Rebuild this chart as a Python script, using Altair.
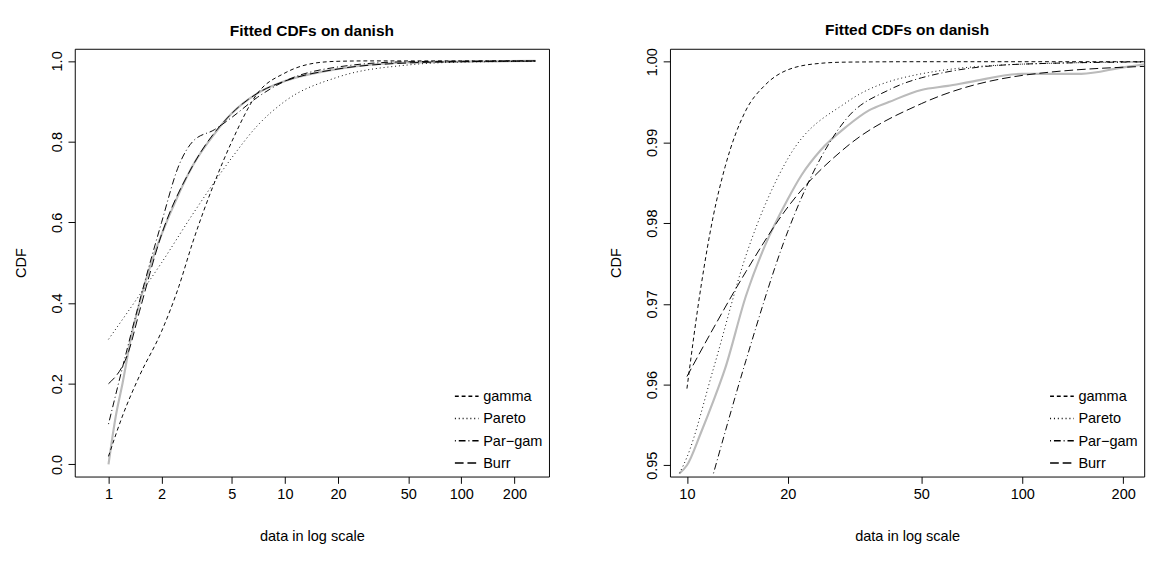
import altair as alt
import pandas as pd

# Left panel: full range
L_gamma_x = [1, 1.2, 1.5, 2, 2.5, 3, 4, 5, 7, 10, 15, 20, 30, 263]
L_gamma_y = [0.02, 0.12, 0.22, 0.33, 0.44, 0.55, 0.70, 0.80, 0.92, 0.97, 0.995, 0.999, 1.0, 1.0]
L_pareto_x = [1, 1.5, 2, 3, 5, 7, 10, 20, 50, 100, 263]
L_pareto_y = [0.31, 0.42, 0.50, 0.62, 0.76, 0.84, 0.90, 0.96, 0.99, 0.997, 0.999]
L_pargam_x = [1, 1.3, 1.6, 2, 2.5, 3, 4, 5, 7, 10, 20, 50, 263]
L_pargam_y = [0.10, 0.30, 0.45, 0.60, 0.74, 0.80, 0.83, 0.86, 0.91, 0.95, 0.985, 0.998, 1.0]
L_burr_x = [1, 1.3, 1.5, 2, 3, 5, 7, 10, 20, 50, 100, 263]
L_burr_y = [0.20, 0.28, 0.38, 0.57, 0.74, 0.87, 0.92, 0.95, 0.98, 0.995, 0.998, 0.9995]
L_emp_x = [1, 1.1, 1.2, 1.35, 1.5, 1.75, 2, 2.5, 3, 4, 5, 7, 10, 20, 50, 263]
L_emp_y = [0.0, 0.12, 0.2, 0.32, 0.4, 0.5, 0.57, 0.67, 0.74, 0.82, 0.87, 0.92, 0.95, 0.98, 0.996, 1.0]

# Right panel: upper tail
R_gamma_x = [10, 11, 12, 13, 15, 17, 20, 25, 30, 50, 263]
R_gamma_y = [0.9595, 0.972, 0.981, 0.987, 0.994, 0.997, 0.999, 0.9998, 0.99995, 1.0, 1.0]
R_pareto_x = [9.5, 10, 12, 15, 20, 30, 50, 100, 263]
R_pareto_y = [0.949, 0.951, 0.962, 0.976, 0.988, 0.995, 0.9985, 0.9997, 1.0]
R_pargam_x = [12, 15, 20, 25, 30, 40, 50, 100, 263]
R_pargam_y = [0.949, 0.963, 0.979, 0.988, 0.993, 0.9965, 0.998, 0.9997, 1.0]
R_burr_x = [10, 12, 15, 20, 30, 50, 100, 263]
R_burr_y = [0.961, 0.967, 0.974, 0.982, 0.9895, 0.9948, 0.9983, 0.9995]
R_emp_x = [9.5, 10, 11, 12, 13, 15, 17, 20, 22, 25, 30, 35, 40, 50, 60, 70, 100, 150, 200, 263]
R_emp_y = [0.949, 0.950, 0.954, 0.958, 0.962, 0.971, 0.977, 0.983, 0.986, 0.989, 0.992, 0.994, 0.995,
           0.9965, 0.997, 0.9975, 0.9985, 0.9985, 0.9993, 1.0]

names = ["gamma", "Pareto", "Par\u2212gam", "Burr"]
dashes = [[4, 3], [1, 3], [1, 3, 7, 3], [9, 4]]


def frame(series):
    rows = []
    for name, (xs, ys) in zip(names, series):
        rows += [{"x": a, "y": b, "dist": name} for a, b in zip(xs, ys)]
    return pd.DataFrame(rows)


def panel(series, emp, xdom, ydom, yticks, yfmt):
    xs = alt.X("x:Q", scale=alt.Scale(type="log", domain=xdom, nice=False),
               axis=alt.Axis(values=[1, 2, 5, 10, 20, 50, 100, 200], format="d",
                             title="data in log scale", titlePadding=28))
    ys = alt.Y("y:Q", scale=alt.Scale(domain=ydom, nice=False, zero=False),
               axis=alt.Axis(values=yticks, format=yfmt, labelAngle=-90,
                             labelAlign="center", labelBaseline="bottom",
                             title="CDF", titlePadding=22))
    empc = alt.Chart(pd.DataFrame({"x": emp[0], "y": emp[1]})).mark_line(
        color="#bbbbbb", strokeWidth=2.2, interpolate="monotone", clip=True
    ).encode(x=xs, y=ys)
    fits = alt.Chart(frame(series)).mark_line(
        color="black", strokeWidth=1, interpolate="monotone", clip=True
    ).encode(
        x=xs, y=ys,
        strokeDash=alt.StrokeDash("dist:N", sort=names,
                                  scale=alt.Scale(domain=names, range=dashes),
                                  legend=alt.Legend(title=None, orient="bottom-right",
                                                    symbolType="stroke", symbolSize=600,
                                                    symbolStrokeColor="black",
                                                    labelFontSize=15, fillColor="white",
                                                    offset=6)),
    )
    return alt.layer(empc, fits).properties(
        width=490, height=442,
        title=alt.TitleParams("Fitted CDFs on danish", fontSize=16, fontWeight="bold"))


left = panel([(L_gamma_x, L_gamma_y), (L_pareto_x, L_pareto_y),
              (L_pargam_x, L_pargam_y), (L_burr_x, L_burr_y)],
             (L_emp_x, L_emp_y), [0.644, 314], [-0.03, 1.03],
             [0, 0.2, 0.4, 0.6, 0.8, 1.0], ".1f")
right = panel([(R_gamma_x, R_gamma_y), (R_pareto_x, R_pareto_y),
               (R_pargam_x, R_pargam_y), (R_burr_x, R_burr_y)],
              (R_emp_x, R_emp_y), [8.9, 231], [0.9486, 1.0016],
              [0.95, 0.96, 0.97, 0.98, 0.99, 1.0], ".2f")

chart = alt.hconcat(left, right, spacing=60).resolve_scale(strokeDash="independent").configure(
    font="Liberation Sans"
).configure_view(stroke="black", strokeWidth=1).configure_axis(
    grid=False, domain=False, tickColor="black", labelColor="black",
    labelFontSize=15, titleFontSize=15, titleFontWeight="normal", tickSize=7, labelPadding=4
).configure_title(offset=10)

chart.save("out.html", embed_options={"renderer": "svg", "actions": False})
